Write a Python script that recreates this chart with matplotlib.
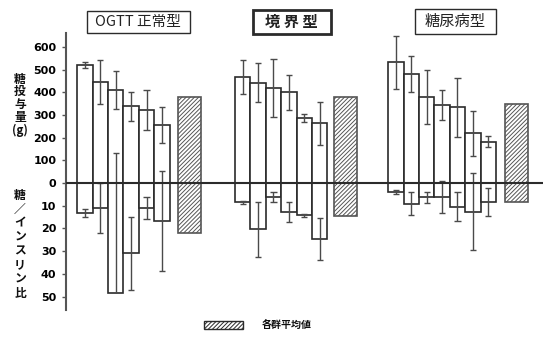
import matplotlib
matplotlib.use("Agg")
import matplotlib.pyplot as plt
from matplotlib.patches import Rectangle

plt.rcParams['font.family'] = ['DejaVu Sans', 'Noto Sans CJK JP']
plt.rcParams['hatch.linewidth'] = 0.7
plt.rcParams['hatch.color'] = '#555555'

# ---- data -------------------------------------------------------------
group_titles = ["OGTT 正常型", "境 界 型", "糖尿病型"]

# sugar load (g): mean and SD per case
sugar_mean = [
    [520, 445, 410, 338, 322, 255],
    [467, 442, 420, 401, 286, 263],
    [532, 480, 379, 344, 335, 219, 182],
]
sugar_sd = [
    [12, 97, 84, 64, 88, 78],
    [74, 86, 128, 77, 18, 95],
    [117, 80, 119, 68, 130, 99, 25],
]
# sugar / insulin ratio: mean and SD per case
ratio_mean = [
    [13.3, 10.9, 48.6, 31.0, 11.1, 16.7],
    [8.5, 20.4, 6.0, 12.9, 14.2, 24.5],
    [3.8, 9.0, 6.3, 6.3, 10.4, 12.6, 8.2],
]
ratio_sd = [
    [1.8, 11, 62, 16, 4.8, 22],
    [0.8, 12, 2.2, 4.4, 0.8, 9.2],
    [0.8, 5.2, 2.3, 7.0, 6.4, 17, 6.2],
]
# group averages (hatched bars)
group_sugar_avg = [380, 378, 349]
group_ratio_avg = [22.2, 14.5, 8.2]

sugar_ticks = [0, 100, 200, 300, 400, 500, 600]
ratio_ticks = [10, 20, 30, 40, 50]
legend_label = "各群平均値"

# ---- layout -----------------------------------------------------------
W, H = 543, 337
RATIO_SCALE = 10          # 10 ratio units take the height of 100 g
BAR_PX = 15.4             # width of one case bar in pixels
group_start = [0.73, 10.97, 20.92]
avg_gap = [0.56, 0.42, 0.57]
avg_width = 1.48
INK = '#2b2b2b'
ERR = '#4a4a4a'
HATCH = '////////'
JP = 'Noto Sans CJK JP'

fig = plt.figure(figsize=(W / 100, H / 100), dpi=100)
fig.patch.set_facecolor('white')


def fx(px):
    return px / W


def fy(py):
    return 1 - py / H


ax_l, ax_r, ax_t, ax_b = 66, 543, 33, 310
ax = fig.add_axes([fx(ax_l), fy(ax_b), fx(ax_r) - fx(ax_l), fy(ax_t) - fy(ax_b)])
ax.set_xlim(0, (ax_r - ax_l) / BAR_PX)
ax.set_ylim(-559, 661)
ymin = ax.get_ylim()[0]


def err_bar(x, center, sd, cap=0.2):
    lo, hi = center - sd, center + sd
    ax.vlines(x, center if lo < ymin else lo, hi, color=ERR, lw=1.0, zorder=4)
    ax.hlines(hi, x - cap, x + cap, color=ERR, lw=1.0, zorder=4)
    if lo >= ymin:
        ax.hlines(lo, x - cap, x + cap, color=ERR, lw=1.0, zorder=4)


for gi in range(3):
    n = len(sugar_mean[gi])
    xs = [group_start[gi] + i + 0.5 for i in range(n)]
    lower = [-r * RATIO_SCALE for r in ratio_mean[gi]]
    ax.bar(xs, sugar_mean[gi], width=1.0, facecolor='white', edgecolor=INK, lw=1.2, zorder=2)
    ax.bar(xs, lower, width=1.0, facecolor='white', edgecolor=INK, lw=1.2, zorder=2)
    for x, m, s in zip(xs, sugar_mean[gi], sugar_sd[gi]):
        err_bar(x, m, s)
    for x, m, s in zip(xs, lower, ratio_sd[gi]):
        err_bar(x, m, s * RATIO_SCALE)

    xa = group_start[gi] + n + avg_gap[gi] + avg_width / 2
    ax.bar([xa], [group_sugar_avg[gi]], width=avg_width, facecolor='white',
           edgecolor='#555555', hatch=HATCH, lw=1.2, zorder=2)
    ax.bar([xa], [-group_ratio_avg[gi] * RATIO_SCALE], width=avg_width, facecolor='white',
           edgecolor='#555555', hatch=HATCH, lw=1.2, zorder=2)

# zero line across the whole plot
ax.axhline(0, color=INK, lw=1.5, zorder=5)

for side in ['top', 'right', 'bottom']:
    ax.spines[side].set_visible(False)
ax.spines['left'].set_color('#555555')
ax.spines['left'].set_linewidth(1.5)
ax.set_xticks([])
ticks = sugar_ticks + [-t * RATIO_SCALE for t in ratio_ticks]
labels = [str(t) for t in sugar_ticks] + [str(t) for t in ratio_ticks]
ax.set_yticks(ticks)
ax.set_yticklabels(labels, fontsize=8, fontweight='bold')
ax.tick_params(axis='y', direction='out', length=3, width=1, color='#555555', pad=4)

# group title boxes
boxes = [(86.7, 11, 190, 33, 1.0, 10.5, 'normal'),
         (252.7, 10, 330.7, 34, 2.0, 11, 'bold'),
         (415, 9.5, 495.7, 33.5, 1.0, 11, 'normal')]
for title, (x0, y0, x1, y1, lw, fs, fw) in zip(group_titles, boxes):
    fig.add_artist(Rectangle((fx(x0), fy(y1)), fx(x1) - fx(x0), fy(y0) - fy(y1),
                             transform=fig.transFigure, facecolor='white',
                             edgecolor=INK, lw=lw))
    fig.text(fx((x0 + x1) / 2), fy((y0 + y1) / 2), title, ha='center', va='center',
             fontsize=fs, fontweight=fw, family=[JP, 'DejaVu Sans'], color='#222222')

# vertical axis captions
upper_chars = ["糖", "投", "与", "量", "(g)"]
for i, ch in enumerate(upper_chars):
    fig.text(fx(20), fy(79 + i * 12.8), ch, ha='center', va='center', fontsize=8.5,
             fontweight='bold', family=[JP, 'DejaVu Sans'], color='#111111')
lower_chars = ["糖", "／", "イ", "ン", "ス", "リ", "ン", "比"]
for i, ch in enumerate(lower_chars):
    fig.text(fx(20), fy(195 + i * 14.0), ch, ha='center', va='center', fontsize=8.5,
             fontweight='bold', family=[JP, 'DejaVu Sans'], color='#111111')

# legend
fig.add_artist(Rectangle((fx(204), fy(328.5)), fx(243) - fx(204), fy(320.5) - fy(328.5),
                         transform=fig.transFigure, facecolor='white', edgecolor=INK,
                         hatch=HATCH, lw=1.0))
fig.text(fx(262), fy(325), legend_label, ha='left', va='center', fontsize=7.2,
         fontweight='bold', family=[JP, 'DejaVu Sans'], color='#111111')

fig.savefig('out.png', dpi=100, facecolor='white')
